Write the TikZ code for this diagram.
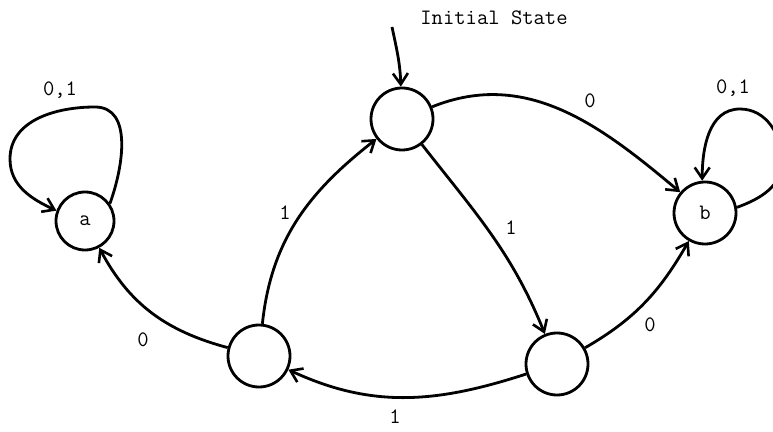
\documentclass[tikz,border=0pt]{standalone}
\usetikzlibrary{arrows.meta}
\newcommand{\lblfont}{\ttfamily\fontsize{22}{26}\selectfont}
\begin{document}
\begin{tikzpicture}[x=1pt,y=1pt,line width=2.8pt,
  state/.style={circle,draw,minimum size=62pt,inner sep=0pt,font=\lblfont},
  lbl/.style={inner sep=0pt,font=\lblfont},
  arr/.style={-{Straight Barb[length=11pt,width=15pt,line width=2.6pt]}}]
\useasboundingbox (0,0) rectangle (773,431);
\clip (0,0) rectangle (773,431);
\node[state,minimum size=58pt] (a) at (85,210) {a};
\node[state] (t) at (402,312) {};
\node[state] (b) at (705,218) {b};
\node[state] (l) at (259,75) {};
\node[state] (r) at (557,67) {};
\coordinate (init) at (392,404);
\node[lbl] (tinit) at (494,413) {Initial State};
\draw[arr] (init) to[out=-78,in=92] (t);
\draw[arr] (t) to[out=22,in=140] (b);
\draw[arr] (t) to[out=-52,in=112] (r);
\draw[arr] (l) to[out=84,in=218] (t);
\draw[arr] (l) to[out=165,in=-62] (a);
\draw[arr] (r) to[out=198,in=-25] (l);
\draw[arr] (r) to[out=30,in=-120] (b);
\coordinate (la1) at (95,324);
\coordinate (la2) at (10,272);
\draw[arr] (a.35) to[out=70,in=0] (la1) to[out=180,in=90] (la2) to[out=-90,in=155] (a.160);
\coordinate (lb1) at (782,270);
\coordinate (lb2) at (740,322);
\draw[arr] (b.10) to[out=20,in=-90] (lb1) to[out=90,in=0] (lb2) to[out=180,in=90] (b.95);
\node[lbl] (la) at (60,341) {0,1};
\node[lbl] (lb) at (733,343) {0,1};
\node[lbl] (e1) at (590,330) {0};
\node[lbl] (e2) at (511,203) {1};
\node[lbl] (e3) at (285,218) {1};
\node[lbl] (e4) at (143,91) {0};
\node[lbl] (e5) at (395,14) {1};
\node[lbl] (e6) at (650,106) {0};
\end{tikzpicture}
\end{document}
